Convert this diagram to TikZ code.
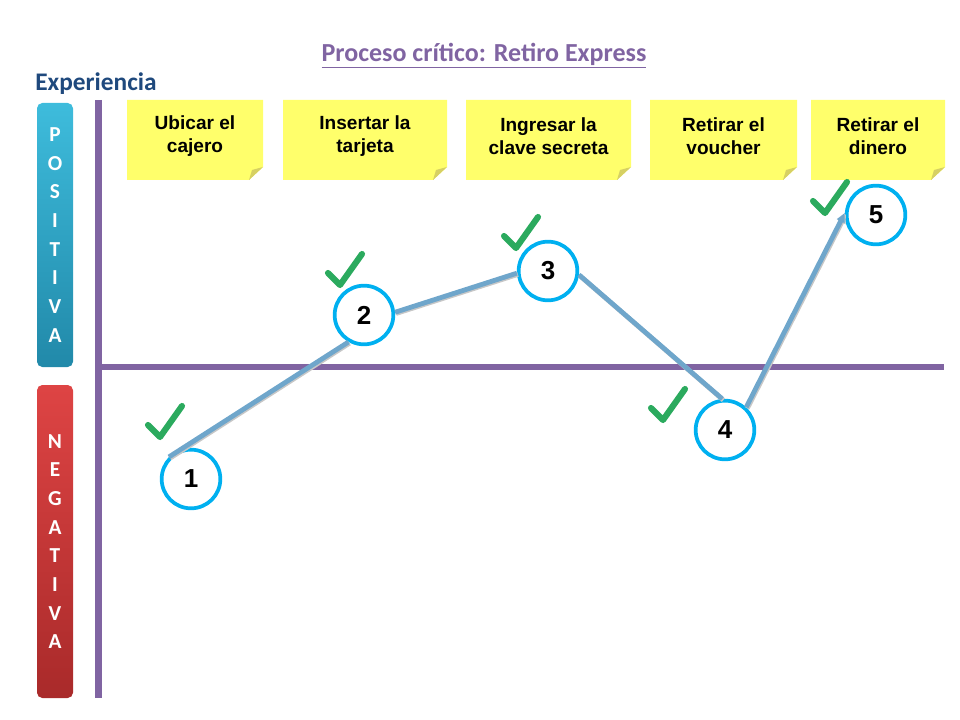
\documentclass[tikz,border=0pt]{standalone}
\usepackage{fontspec}
\setmainfont{Liberation Sans}
\newfontfamily\calfont{Carlito}
\usepackage{tikz}
\usetikzlibrary{arrows.meta}
\usepackage{tkz-euclide}
\definecolor{axispurple}{HTML}{8064A2}
\definecolor{notefill}{HTML}{FFFF6B}
\definecolor{foldfill}{HTML}{D6D063}
\definecolor{ringblue}{HTML}{00B0F0}
\definecolor{pathblue}{HTML}{6FA6CB}
\definecolor{tickgreen}{HTML}{2BAA5E}
\definecolor{expblue}{HTML}{1F497D}
\definecolor{postop}{HTML}{3EBCDC}
\definecolor{posbot}{HTML}{2189A9}
\definecolor{negtop}{HTML}{DE4444}
\definecolor{negbot}{HTML}{A92A2A}

\begin{document}
\begin{tikzpicture}[x=0.75pt, y=-0.75pt,
    stage/.style={circle, draw=ringblue, line width=2.8pt, fill=white, minimum size=44pt, inner sep=0pt,
        font=\bfseries\fontsize{19.5}{20}\selectfont},
    link/.style={draw=pathblue, line width=3.6pt,
        preaction={draw=black!22, line width=3.6pt, transform canvas={shift={(0.8pt,-0.9pt)}}}},
    axis/.style={draw=axispurple, line width=5.2pt},
    notetext/.style={align=center, font=\bfseries\fontsize{14.3}{17.25}\selectfont},
    tick/.style={draw=tickgreen, line width=4.6pt, line cap=round, line join=round},
    bar/.style={rounded corners=4pt, minimum width=27pt, align=center, text=white,
        font=\calfont\bfseries\fontsize{16}{21.5}\selectfont}]
                \useasboundingbox (0,0) rectangle (960,720);
                \tkzDefPoints{191/479/P1, 364/315/P2, 548/271/P3, 725/430/P4, 876/215/P5}
                \node[font=\calfont\bfseries\fontsize{19.5}{22}\selectfont, text=axispurple] (title) at (484,56)
                    {\underline{Proceso crítico: Retiro Express}};
                \node[font=\calfont\bfseries\fontsize{19}{22}\selectfont, text=expblue] (exp) at (96,84) {Experiencia};
                \node[bar, minimum height=198pt, top color=postop, bottom color=posbot]
                    (pos) at (55,235) {P\\O\\S\\I\\T\\I\\V\\A};
                \node[bar, minimum height=234.75pt, top color=negtop, bottom color=negbot]
                    (neg) at (55,541.5) {N\\E\\G\\A\\T\\I\\V\\A};
                \draw[axis] (98.5,100) -- (98.5,698);
                \draw[axis] (98.5,367) -- (944,367);
                \foreach \a/\b/\t [count=\i] in {127/263/{Ubicar el\\cajero}, 283/447/{Insertar la\\tarjeta},
                        466/631/{Ingresar la\\clave secreta}, 650/797/{Retirar el\\voucher}, 811/945/{Retirar el\\dinero}}{
                    \fill[notefill] (\a,100) -- (\b,100) -- (\b,167) -- (\b-14,180) -- (\a,180) -- cycle;
                    \fill[foldfill] (\b,167) -- (\b-14,180) -- (\b-11,170) -- cycle;
                    \node[notetext] (s\i) at ({(\a+\b)/2},136) {\t};
                }
                \foreach \i in {1,...,5}
                    \node[stage] (n\i) at (P\i) {\i};
                \draw[link] (n1.135) -- (n2.240);
                \draw[link] (n2.5) -- (n3.184);
                \draw[link] (n3.353) -- (n4.95);
                \draw[link, -{Triangle[length=7pt, width=6pt]}] (n4.47) -- (n5.176);
                \foreach \x/\y in {160/437, 340/285, 516/248, 663/420, 825/213}
                    \draw[tick] (\x-12,\y-12) -- (\x,\y) -- (\x+22,\y-31);
            \end{tikzpicture}
\end{document}
